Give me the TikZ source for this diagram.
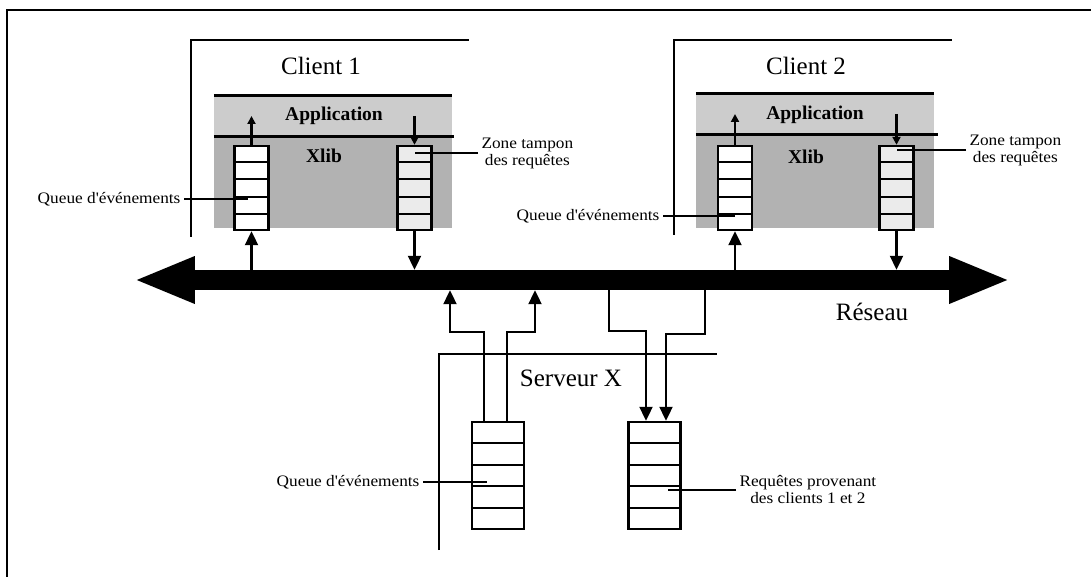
\documentclass[tikz,border=0pt]{standalone}
\usepackage{fontspec}
\setmainfont{Liberation Serif}
\newfontfamily\labelfont[FakeStretch=1.08]{Liberation Serif}
\usetikzlibrary{arrows.meta,calc}

\tikzset{
  title/.style={font=\fontsize{25}{30}\selectfont},
  bandtitle/.style={font=\fontsize{19.5}{23}\selectfont\bfseries, inner sep=1pt},
  note/.style={font=\labelfont\fontsize{16}{17}\selectfont, align=center},
  frame/.style={line width=1.9pt},
  appband/.style={fill=black!20, draw=none, inner sep=0pt, minimum width=238pt, minimum height=40pt},
  xlibband/.style={fill=black!30, draw=none, inner sep=0pt, minimum width=238pt},
  bandline/.style={line width=3.2pt},
  queuebox/.style={draw, line width=2.4pt, inner sep=0pt, minimum width=34pt, minimum height=84pt, fill=white},
  bufferbox/.style={queuebox, fill=black!8},
  serverbox/.style={queuebox, minimum width=52pt, minimum height=107pt},
  cell/.style={line width=2.1pt},
  wire/.style={line width=2.1pt},
  bigarr/.style={wire, -{Triangle[length=14pt,width=13pt]}},
  smallarr/.style={wire, -{Triangle[length=8pt,width=8pt]}},
  leader/.style={line width=2pt},
}

% horizontal separators splitting a queue into five cells
\newcommand\qdividers[1]{%
  \foreach \k in {1,...,4}
    \draw[cell] ($(#1.north west)!\k/5!(#1.south west)$) -- ($(#1.north east)!\k/5!(#1.south east)$);}

\begin{document}
\begin{tikzpicture}[x=1pt,y=-1pt]
\useasboundingbox (0,0) rectangle (1091,577);

% outer border
\draw[line width=2.5pt] (7,577) -- (7,10) -- (1091,10);

% ---------------- Client 1 ----------------
\draw[frame] (191,237) -- (191,40) -- (469,40);
\node[title] (c1) at (321,66) {Client 1};
\node[xlibband, minimum height=92pt] (xl1) at (333,182) {};
\node[appband] (app1) at (333,116) {};
\node[bandtitle] (app1t) at (334,116) {Application};
\node[bandtitle] (xl1t) at (324,156) {Xlib};
\draw[bandline] (app1.north west) -- (app1.north east);
\draw[bandline] (app1.south west) -- ([xshift=2pt]app1.south east);

\node[queuebox] (q1e) at (251.5,188) {};
\node[bufferbox] (q1r) at (414.5,188) {};
\qdividers{q1e}
\qdividers{q1r}

% ---------------- Client 2 ----------------
\draw[frame] (674,235) -- (674,40) -- (952,40);
\node[title] (c2) at (806,66) {Client 2};
\node[xlibband, minimum height=94pt] (xl2) at (815,181) {};
\node[appband] (app2) at (815,114) {};
\node[bandtitle] (app2t) at (815,115) {Application};
\node[bandtitle] (xl2t) at (806,157) {Xlib};
\draw[bandline] (app2.north west) -- (app2.north east);
\draw[bandline] (app2.south west) -- ([xshift=4pt]app2.south east);

\node[queuebox] (q2e) at (735,188) {};
\node[bufferbox] (q2r) at (896.5,188) {};
\qdividers{q2e}
\qdividers{q2r}

% ---------------- Network ----------------
\node[fill=black, inner sep=0pt, minimum width=760pt, minimum height=20pt] (net) at (572,280) {};
\fill ([xshift=3pt]net.west) -- ++(0,-24) -- ++(-58,24) -- ++(58,24) -- cycle;
\fill ([xshift=-3pt]net.east) -- ++(0,-24) -- ++(58,24) -- ++(-58,24) -- cycle;
\node[title] (res) at (872,312) {Réseau};

% ---------------- Server ----------------
\draw[frame] (439,550) -- (439,354) -- (717,354);
\node[title] (srv) at (571,378) {Serveur X};
\node[serverbox] (sq1) at (498,475.5) {};
\node[serverbox] (sq2) at (654.5,475.5) {};
\qdividers{sq1}
\qdividers{sq2}

% ---------------- Flows inside the clients ----------------
\draw[smallarr] (q1e.north) -- (q1e.north |- app1.center);
\draw[smallarr] (q1r.north |- app1.center) -- (q1r.north);
\draw[bigarr] (q1e.south |- net.north) -- (q1e.south);
\draw[bigarr] (q1r.south) -- (q1r.south |- net.north);

\draw[smallarr] (q2e.north) -- (q2e.north |- app2.center);
\draw[smallarr] (q2r.north |- app2.center) -- (q2r.north);
\draw[bigarr] (q2e.south |- net.north) -- (q2e.south);
\draw[bigarr] (q2r.south) -- (q2r.south |- net.north);

% ---------------- Flows to and from the server ----------------
\draw[bigarr] ([xshift=-14pt]sq1.north) |- (450,332) -- (450,0 |- net.south);
\draw[bigarr] ([xshift=9pt]sq1.north) |- (535,332) -- (535,0 |- net.south);
\draw[bigarr] (609,0 |- net.south) -- (609,331) -| ([xshift=-8.5pt]sq2.north);
\draw[bigarr] (705,0 |- net.south) -- (705,334) -| ([xshift=11.5pt]sq2.north);

% ---------------- Labels ----------------
\node[note, anchor=east] (lq1) at (184,199) {Queue d'événements};
\draw[leader] (lq1.east) -- ([xshift=-4pt]q1e.center |- lq1.east);

\node[note, anchor=west] (zt1) at (478,153) {Zone tampon\\des requêtes};
\draw[leader] (zt1.west) -- (q1r.center |- zt1.west);

\node[note, anchor=east] (lq2) at (663,216) {Queue d'événements};
\draw[leader] (lq2.east) -- (q2e.center |- lq2.east);

\node[note, anchor=west] (zt2) at (966,150) {Zone tampon\\des requêtes};
\draw[leader] (zt2.west) -- (q2r.center |- zt2.west);

\node[note, anchor=east] (lsq) at (423,482) {Queue d'événements};
\draw[leader] (lsq.east) -- ([xshift=-11pt]sq1.center |- lsq.east);

\node[note, anchor=west] (rq) at (736,490) {Requêtes provenant\\des clients 1 et 2};
\draw[leader] (rq.west) -- ([xshift=13pt]sq2.center |- rq.west);

\end{tikzpicture}
\end{document}
